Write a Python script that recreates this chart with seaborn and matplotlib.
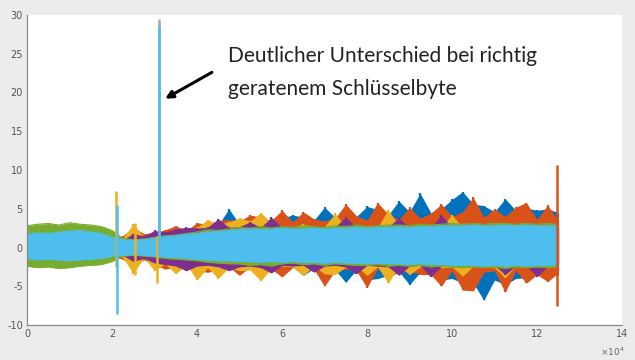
import numpy as np
import pandas as pd
import seaborn as sns
import matplotlib
matplotlib.use("Agg")
import matplotlib.pyplot as plt

# sample index of every envelope reading (0 .. 125000, every 2500 samples)
sample = [0, 2500, 5000, 7500, 10000, 12500, 15000, 17500, 20000, 22500,
          25000, 27500, 30000, 32500, 35000, 37500, 40000, 42500, 45000, 47500,
          50000, 52500, 55000, 57500, 60000, 62500, 65000, 67500, 70000, 72500,
          75000, 77500, 80000, 82500, 85000, 87500, 90000, 92500, 95000, 97500,
          100000, 102500, 105000, 107500, 110000, 112500, 115000, 117500, 120000, 122500,
          125000]

# envelopes (upper / lower value of each trace around that sample)
lightblue_hi = [1.7, 1.9, 1.8, 2.0, 2.1, 2.2, 2.0, 1.8, 1.3, 1.0, 0.9, 1.0, 1.2, 1.4, 1.5, 1.7,
                1.8, 2.0, 2.1, 2.2, 2.3, 2.4, 2.3, 2.4, 2.5, 2.4, 2.4, 2.5, 2.4, 2.5, 2.5, 2.6,
                2.5, 2.6, 2.6, 2.7, 2.6, 2.7, 2.7, 2.8, 2.8, 2.8, 2.9, 2.8, 2.8, 2.9, 2.8, 2.9,
                2.8, 2.8, 2.8]
lightblue_lo = [-1.4, -1.6, -1.5, -1.6, -1.7, -1.6, -1.5, -1.4, -1.1, -1.0, -0.9, -1.0, -1.1, -1.2, -1.3, -1.4,
                -1.5, -1.6, -1.7, -1.7, -1.8, -1.8, -1.9, -1.8, -1.9, -1.8, -1.9, -1.9, -2.0, -1.9, -2.0, -2.0,
                -2.1, -2.0, -2.1, -2.1, -2.2, -2.1, -2.2, -2.2, -2.3, -2.3, -2.3, -2.4, -2.3, -2.4, -2.3, -2.4,
                -2.3, -2.3, -2.3]
green_hi = [2.8, 3.0, 3.1, 2.9, 3.2, 3.0, 2.9, 2.7, 2.2, 1.2, 1.0, 1.1, 1.3, 1.5, 1.6, 1.8,
            2.0, 2.3, 2.2, 2.4, 2.6, 2.5, 2.7, 2.5, 2.7, 2.6, 2.8, 2.7, 2.6, 2.8, 2.7, 2.9,
            2.7, 2.8, 2.9, 2.9, 2.8, 3.0, 2.9, 3.0, 3.1, 3.0, 3.1, 3.0, 3.1, 3.1, 3.0, 3.1,
            3.0, 3.1, 3.0]
green_lo = [-2.4, -2.6, -2.5, -2.7, -2.6, -2.4, -2.3, -2.2, -1.8, -1.1, -1.0, -1.1, -1.2, -1.4, -1.5, -1.6,
            -1.7, -1.9, -2.0, -2.1, -2.1, -2.3, -2.2, -2.4, -2.1, -2.0, -2.2, -2.1, -2.3, -2.1, -2.2, -2.3,
            -2.3, -2.2, -2.4, -2.3, -2.4, -2.3, -2.5, -2.4, -2.5, -2.6, -2.5, -2.6, -2.5, -2.7, -2.5, -2.6,
            -2.5, -2.6, -2.5]

# the other four traces only show from sample 20000 on
blue_hi = [1.2, 1.1, 1.5, 1.2, 1.6, 1.7, 2.0, 2.0, 2.4, 2.8, 2.9, 5.0, 3.0, 3.5, 3.3, 3.4,
           3.8, 4.2, 3.9, 3.5, 5.2, 3.9, 4.8, 4.0, 5.3, 4.9, 4.2, 6.0, 4.6, 7.0, 4.5, 5.0,
           6.2, 7.2, 5.6, 5.4, 4.6, 6.3, 4.8, 5.1, 4.8, 5.0, 4.5]
blue_lo = [-1.3, -1.1, -1.6, -1.2, -1.8, -1.9, -2.2, -2.1, -2.6, -2.4, -2.7, -2.4, -2.8, -2.3, -3.0, -2.6,
           -3.0, -2.5, -3.6, -2.7, -3.8, -2.9, -4.5, -2.9, -4.2, -4.0, -3.6, -3.1, -4.8, -3.2, -3.4, -4.2,
           -4.0, -4.6, -4.6, -6.8, -4.2, -4.8, -4.0, -3.9, -3.4, -3.8, -3.5]
orange_hi = [1.3, 1.5, 2.6, 1.8, 1.9, 2.3, 2.8, 2.2, 3.2, 3.0, 3.5, 3.6, 3.4, 4.2, 3.9, 3.5,
             4.8, 3.3, 4.6, 3.7, 3.4, 3.8, 5.6, 4.1, 3.5, 5.8, 4.3, 3.6, 5.2, 3.8, 4.4, 5.6,
             4.0, 4.6, 6.5, 3.9, 5.0, 4.0, 5.2, 5.8, 3.6, 5.5, 3.4]
orange_lo = [-1.2, -1.5, -2.4, -1.6, -2.2, -2.8, -2.5, -2.3, -3.0, -3.2, -2.9, -2.5, -3.6, -2.5, -3.4, -2.8,
             -3.8, -2.6, -2.6, -2.8, -5.0, -3.0, -2.8, -3.0, -5.2, -2.7, -3.8, -3.2, -3.0, -3.5, -3.5, -5.0,
             -3.0, -5.5, -5.6, -3.2, -3.0, -5.8, -3.0, -4.6, -3.5, -4.4, -3.3]
yellow_hi = [1.6, 1.2, 3.0, 1.4, 1.7, 1.8, 2.1, 1.9, 2.6, 3.6, 3.0, 3.3, 3.8, 3.4, 4.5, 3.2,
             2.6, 2.7, 3.0, 2.6, 2.7, 4.4, 2.6, 2.8, 2.7, 2.6, 4.9, 2.7, 2.6, 2.8, 2.6, 2.7,
             4.2, 2.6, 2.7, 2.6, 2.8, 2.6, 2.7, 2.6, 2.7, 2.6, 2.5]
yellow_lo = [-1.5, -1.2, -3.4, -1.3, -3.0, -2.1, -3.4, -2.2, -4.2, -2.6, -4.0, -2.6, -3.0, -2.9, -4.3, -2.7,
             -2.4, -2.5, -3.6, -2.4, -3.4, -3.5, -2.5, -2.4, -3.6, -2.5, -4.6, -2.4, -3.5, -2.5, -2.4, -2.6,
             -2.5, -3.7, -2.4, -2.5, -2.6, -3.9, -2.4, -2.5, -2.4, -2.5, -2.4]
purple_hi = [1.1, 1.0, 1.8, 1.5, 2.2, 2.0, 2.4, 2.6, 2.5, 2.6, 3.7, 2.6, 2.7, 3.3, 2.6, 3.9,
             2.6, 2.7, 2.6, 2.8, 2.6, 2.7, 3.9, 2.6, 2.7, 2.6, 2.7, 3.8, 2.6, 2.7, 2.6, 4.2,
             2.6, 2.7, 2.6, 2.8, 2.6, 2.7, 2.6, 2.5, 2.6, 2.7, 2.5]
purple_lo = [-1.1, -1.0, -1.8, -1.4, -2.0, -2.2, -2.4, -3.0, -2.4, -2.3, -2.5, -3.0, -2.5, -2.4, -2.6, -3.3,
             -2.3, -2.4, -2.3, -3.2, -2.4, -2.3, -2.5, -3.4, -2.3, -2.4, -2.5, -3.6, -2.4, -2.3, -3.8, -2.4,
             -2.3, -2.4, -2.5, -2.4, -2.3, -3.5, -2.4, -2.3, -3.8, -2.4, -2.3]

# single spikes sticking out of the band
spike_sample = [20900, 21100, 25500, 30600, 31000, 31000, 124800]
spike_hi = [7.3, 5.5, 3.1, 1.5, 29.5, 28.6, 10.6]
spike_lo = [-2.5, -8.6, -3.5, -4.6, -1.0, -1.2, -7.5]
spike_trace = ["yellow", "lightblue", "yellow", "yellow", "tip", "lightblue", "orange"]

x_ticks = [0, 2, 4, 6, 8, 10, 12, 14]
y_ticks = [-10, -5, 0, 5, 10, 15, 20, 25, 30]

note_1 = "Deutlicher Unterschied bei richtig"
note_2 = "geratenem Schlüsselbyte"

palette = {"blue": "#0072BD", "orange": "#D95319", "yellow": "#EDB120",
           "purple": "#7E2F8E", "green": "#77AC30", "lightblue": "#4DBEEE",
           "tip": "#a8a8a8"}

sns.set_style("white")
plt.rcParams['font.family'] = ['DejaVu Sans']

fig = plt.figure(figsize=(6.35, 3.6), dpi=100, facecolor="#ececec")
ax = fig.add_axes([27 / 635, 35 / 360, 595 / 635, 310 / 360])
ax.set_facecolor("white")

late = sample[8:]
traces = [
    ("blue", late, blue_hi, blue_lo, True),
    ("orange", late, orange_hi, orange_lo, True),
    ("yellow", late, yellow_hi, yellow_lo, True),
    ("purple", late, purple_hi, purple_lo, True),
    ("green", sample, green_hi, green_lo, False),
    ("lightblue", sample, lightblue_hi, lightblue_lo, False),
]

for i, (name, xs, hi, lo, spiky) in enumerate(traces):
    col = palette[name]
    z = 1 + i * 0.1
    ax.fill_between(xs, lo, hi, color=col, lw=0, zorder=z)
    if spiky:
        # a vertical stroke at every reading makes the band look like a noisy trace
        ax.vlines(xs, lo, hi, color=col, lw=1.6, zorder=z + 0.01)
    else:
        df = pd.DataFrame({"sample": list(xs) * 2,
                           "value": list(hi) + list(lo),
                           "edge": ["hi"] * len(xs) + ["lo"] * len(xs)})
        sns.lineplot(data=df, x="sample", y="value", units="edge", estimator=None,
                     color=col, lw=0.8, ax=ax, zorder=z + 0.01)

for xs, hi, lo, name in zip(spike_sample, spike_hi, spike_lo, spike_trace):
    ax.vlines(xs, lo, hi, color=palette[name], lw=1.8, zorder=3)

ax.set_xlim(0, 140000)
ax.set_ylim(-10, 30)
ax.set_xticks([t * 10000 for t in x_ticks])
ax.set_xticklabels([str(t) for t in x_ticks])
ax.set_yticks(y_ticks)
ax.set_yticklabels([str(t) for t in y_ticks])
ax.set_xlabel("")
ax.set_ylabel("")
ax.tick_params(direction="in", length=3, width=0.7, color="#777777",
               labelsize=7, labelcolor="#555555", pad=3)

sns.despine(ax=ax, top=True, right=True)
for s in ["left", "bottom"]:
    ax.spines[s].set_color("#8a8a8a")
    ax.spines[s].set_linewidth(0.9)

ax.text(1.005, -0.085, r"$\times10^{4}$", transform=ax.transAxes,
        ha="right", va="center", fontsize=6.5, color="#666666")

ax.annotate("", xy=(32500, 19.2), xytext=(43500, 22.6),
            arrowprops=dict(arrowstyle="-|>", lw=2.2, color="black",
                            mutation_scale=11, shrinkA=0, shrinkB=0))
ax.text(47300, 24.7, note_1, ha="left", va="center", fontsize=15,
        family=["Lato", "DejaVu Sans"], color="#222222")
ax.text(47300, 20.4, note_2, ha="left", va="center", fontsize=15,
        family=["Lato", "DejaVu Sans"], color="#222222")

fig.savefig("out.png", dpi=100, facecolor=fig.get_facecolor())
